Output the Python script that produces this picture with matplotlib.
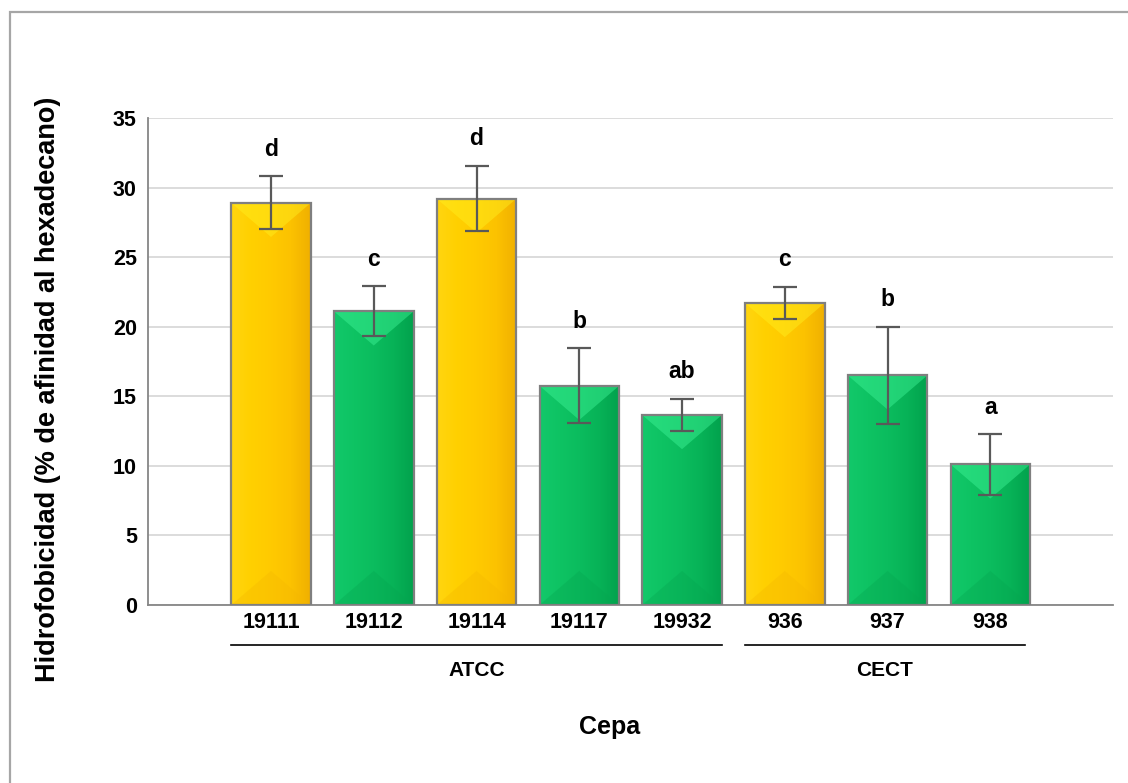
import numpy as np
import matplotlib
matplotlib.use("Agg")
import matplotlib.pyplot as plt
from matplotlib.patches import Polygon, Rectangle
from matplotlib.colors import LinearSegmentedColormap

plt.rcParams['font.family'] = ['Liberation Sans', 'DejaVu Sans']
plt.rcParams['font.weight'] = 'bold'

cepas = ['19111', '19112', '19114', '19117', '19932', '936', '937', '938']
hidrofobicidad = [28.9, 21.1, 29.2, 15.75, 13.65, 21.7, 16.5, 10.1]
error = [1.9, 1.8, 2.35, 2.7, 1.17, 1.15, 3.5, 2.17]
letras = ['d', 'c', 'd', 'b', 'ab', 'c', 'b', 'a']
tipo = ['y', 'g', 'y', 'g', 'g', 'y', 'g', 'g']
grupos = ['ATCC', 'CECT']
grupo_rango = [(-0.39, 4.39), (4.61, 7.34)]

# colours: left -> right gradient, top bevel, bottom bevel
estilo = {
    'y': dict(grad=['#ffd510', '#ffd000', '#ffca00', '#fcc200', '#f0b000'], top='#fff020', bot='#f5b800'),
    'g': dict(grad=['#12c86a', '#0ec363', '#0bbc5e', '#07b257', '#02a24d'], top='#40f598', bot='#05a650'),
}

fig = plt.figure(figsize=(11.28, 7.83), dpi=100)
ax = fig.add_axes([148 / 1128, 1 - 605 / 783, (1113 - 148) / 1128, (605 - 118) / 783])

x = np.arange(len(cepas))
ancho = 0.774
ax.bar(x, hidrofobicidad, width=ancho, color='none', edgecolor='#7f7f7f',
       linewidth=1.6, zorder=4)

prof = 2.45  # bevel depth in data units
for xi, h, t in zip(x, hidrofobicidad, tipo):
    st = estilo[t]
    l, r = xi - ancho / 2, xi + ancho / 2
    cmap = LinearSegmentedColormap.from_list('g', st['grad'])
    ax.imshow(np.linspace(0, 1, 64).reshape(1, -1), cmap=cmap, aspect='auto',
              extent=[l, r, 0, h], zorder=2)
    ax.add_patch(Polygon([[l, h], [r, h], [xi, h - prof]], closed=True,
                         facecolor=st['top'], edgecolor='none', alpha=0.45, zorder=3))
    ax.add_patch(Polygon([[l, 0], [r, 0], [xi, prof]], closed=True,
                         facecolor=st['bot'], edgecolor='none', alpha=0.35, zorder=3))

ax.set_xlim(-1.197, 8.194)
ax.set_ylim(0, 35)

ax.errorbar(x, hidrofobicidad, yerr=error, fmt='none', ecolor='#595959',
            elinewidth=1.6, capsize=8.5, capthick=1.6, zorder=5)

for xi, h, e, s in zip(x, hidrofobicidad, error, letras):
    ax.annotate(s, (xi, h + e), xytext=(0, 19.5), textcoords='offset points',
                ha='center', va='center', fontsize=16.5, fontweight='bold')

ax.set_yticks(np.arange(0, 36, 5))
ax.set_xticks(x)
ax.set_xticklabels(cepas)
ax.tick_params(axis='both', length=0, labelsize=15.5, pad=8)
ax.tick_params(axis='x', pad=5)
ax.yaxis.grid(True, color='#d9d9d9', linewidth=1.3)
ax.set_axisbelow(True)
for s in ['top', 'right']:
    ax.spines[s].set_visible(False)
for s in ['left', 'bottom']:
    ax.spines[s].set_color('#868686')
    ax.spines[s].set_linewidth(1.3)

# strain collections under the tick labels
tr = ax.get_xaxis_transform()
for g, (a, b) in zip(grupos, grupo_rango):
    ax.plot([a, b], [-0.082, -0.082], color='black', linewidth=1.2,
            transform=tr, clip_on=False)
    ax.text((a + b) / 2, -0.134, g, transform=tr, ha='center', va='center',
            fontsize=15, fontweight='bold')

fig.text(610 / 1128, 1 - 727 / 783, 'Cepa', ha='center', va='center',
         fontsize=18, fontweight='bold')
fig.text(48 / 1128, 1 - 389 / 783, 'Hidrofobicidad (% de afinidad al hexadecano)',
         rotation=90, ha='center', va='center', fontsize=19.5, fontweight='bold')

fig.patches.append(Rectangle((10 / 1128, -0.01), 1.05, 1 - 12 / 783 + 0.01,
                             transform=fig.transFigure, fill=False,
                             edgecolor='#a6a6a6', linewidth=1.6))

fig.savefig('out.png', dpi=100)
